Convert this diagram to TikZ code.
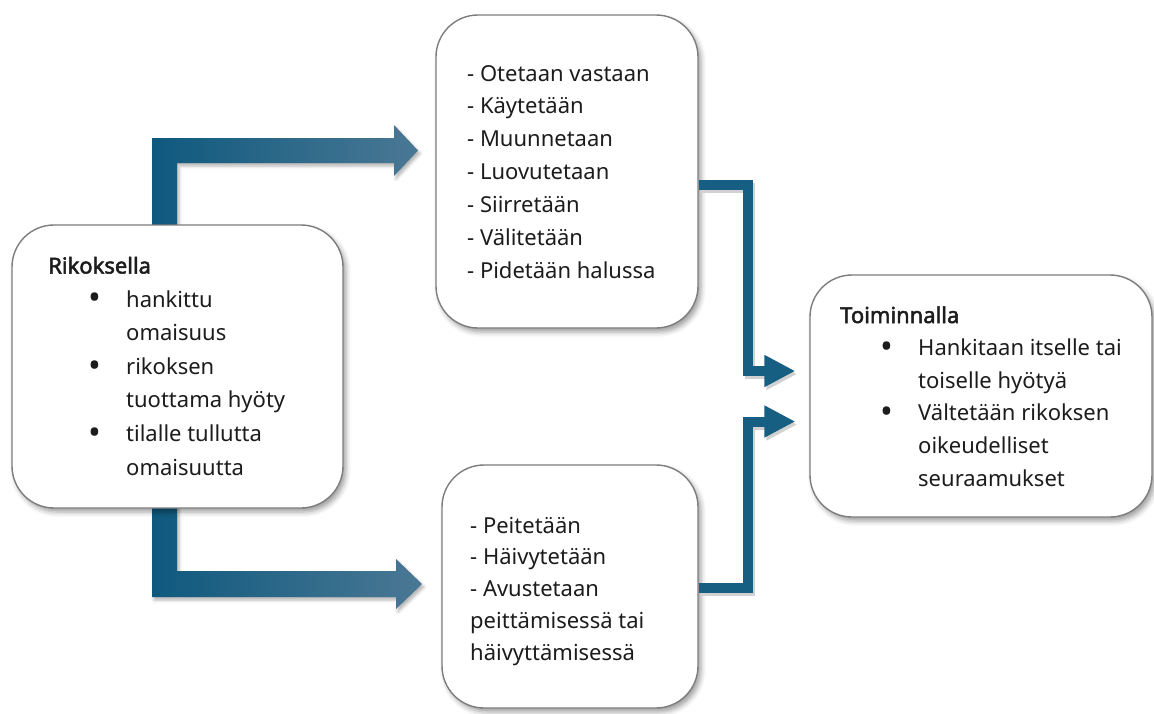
\documentclass[tikz,border=0pt]{standalone}
\usepackage{fontspec}
\setmainfont{Noto Sans}
\newfontfamily\titlefont{Noto Sans}[FakeBold=2.2]
\usetikzlibrary{arrows.meta,shadows.blur}
\definecolor{arrowdark}{RGB}{15,89,126}
\definecolor{arrowlight}{RGB}{74,120,148}
\definecolor{thinblue}{RGB}{22,95,130}
\definecolor{boxline}{RGB}{125,125,125}
\definecolor{txtcol}{RGB}{28,28,28}
\newcommand\bul{\hspace*{40pt}\makebox[38pt][l]{\raisebox{-0.13em}{\scalebox{1.55}{\textbullet}}}}
\newcommand\cont{\hspace*{78pt}}
\begin{document}
\begin{tikzpicture}[x=1pt,y=-1pt,
  box/.style={draw=boxline, line width=1.4pt, fill=white, rounded corners=42pt,
    blur shadow={shadow xshift=3pt, shadow yshift=-4pt, shadow blur radius=5pt, shadow opacity=38}},
  txt/.style={anchor=base west, inner sep=0pt, text=txtcol},
  bigarrow/.style={left color=arrowdark, right color=arrowlight,
    blur shadow={shadow xshift=2pt, shadow yshift=-3pt, shadow blur radius=3pt, shadow opacity=30}},
  thinarrow/.style={draw=thinblue, line width=10pt, line join=miter,
    -{Triangle[length=31pt,width=30pt]}, shorten >=14pt},
  thinshadow/.style={thinarrow, draw=black!18, transform canvas={shift={(2pt,-3pt)}}}
]
\useasboundingbox (0,0) rectangle (1154,713);

% thick block arrows (drawn before the boxes)
\shade[bigarrow] (152,240) -- (152,138) -- (394,138) -- (394,125) -- (418,150.5)
  -- (394,176) -- (394,163) -- (177,163) -- (177,240) -- cycle;
\shade[bigarrow] (152,495) -- (152,597) -- (396,597) -- (396,609) -- (422,584)
  -- (396,559) -- (396,571) -- (177,571) -- (177,495) -- cycle;

% boxes
\node[box, minimum width=331pt, minimum height=283pt] (L) at (177.5,366.5) {};
\node[box, minimum width=262pt, minimum height=313pt] (T) at (567,171.5) {};
\node[box, minimum width=256pt, minimum height=243pt] (B) at (570,586.5) {};
\node[box, minimum width=342pt, minimum height=242pt] (R) at (981,396) {};

% thin arrows
\draw[thinshadow] (T.east |- 0,184.5) -| (747.5,371) -- (R.west |- 0,371);
\draw[thinshadow] (B.east |- 0,588) -| (747.5,421.5) -- (R.west |- 0,421.5);
\draw[thinarrow] (T.east |- 0,184.5) -| (747.5,371) -- (R.west |- 0,371);
\draw[thinarrow] (B.east |- 0,588) -| (747.5,421.5) -- (R.west |- 0,421.5);

% texts
\node[txt] (Ltext) at (48,273.5) {\parbox[t]{290pt}{\fontsize{22}{33.6}\selectfont
  {\titlefont Rikoksella}\\
  \bul hankittu\\
  \cont omaisuus\\
  \bul rikoksen\\
  \cont tuottama hyöty\\
  \bul tilalle tullutta\\
  \cont omaisuutta}};

\node[txt] (Ttext) at (467,81) {\parbox[t]{225pt}{\fontsize{22}{32.9}\selectfont
  - Otetaan vastaan\\
  - Käytetään\\
  - Muunnetaan\\
  - Luovutetaan\\
  - Siirretään\\
  - Välitetään\\
  - Pidetään halussa}};

\node[txt] (Btext) at (470,533) {\parbox[t]{220pt}{\fontsize{22}{31.8}\selectfont
  - Peitetään\\
  - Häivytetään\\
  - Avustetaan\\
  peittämisessä tai\\
  häivyttämisessä}};

\node[txt] (Rtext) at (840,323) {\parbox[t]{300pt}{\fontsize{22}{32.6}\selectfont
  {\titlefont Toiminnalla}\\
  \bul Hankitaan itselle tai\\
  \cont toiselle hyötyä\\
  \bul Vältetään rikoksen\\
  \cont oikeudelliset\\
  \cont seuraamukset}};
\end{tikzpicture}
\end{document}
